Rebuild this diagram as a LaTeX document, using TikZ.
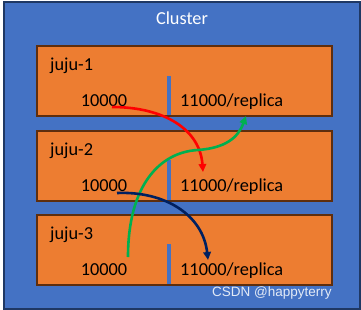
\documentclass[tikz,border=0pt]{standalone}
\usepackage{fontspec}
\setmainfont{Carlito}
\newfontfamily\wmfont{Liberation Sans}
\usetikzlibrary{arrows.meta}
\definecolor{clblue}{HTML}{4472C4}
\definecolor{clnavy}{HTML}{1F3864}
\definecolor{clorange}{HTML}{ED7D31}
\definecolor{clbrown}{HTML}{5E2E0E}
\definecolor{arred}{HTML}{FF0000}
\definecolor{argreen}{HTML}{00B050}
\definecolor{arnavy}{HTML}{002060}
\begin{document}
\begin{tikzpicture}[x=1bp,y=-1bp,
  jujubox/.style={draw=clbrown,fill=clorange,line width=2bp,minimum width=295bp,minimum height=70bp,anchor=north west,inner sep=0pt},
  txt/.style={font=\fontsize{18.3bp}{21bp}\selectfont,inner sep=0pt},
  bar/.style={fill=clblue,minimum width=4bp,inner sep=0pt,anchor=south},
  flow/.style={line width=2.6bp,-{Triangle[length=8bp,width=7.5bp]}}]
\useasboundingbox (0,0) rectangle (361,310);
\fill[white] (0,0) rectangle (361,310);
\node[draw=clnavy,fill=clblue,line width=2bp,minimum width=356bp,minimum height=307bp,anchor=north west,inner sep=0pt] (cluster) at (3,1) {};
\node[txt,text=white,anchor=base] (title) at (182,24) {Cluster};
% boxes
\node[jujubox] (b1) at (36,45) {};
\node[jujubox] (b2) at (36,130) {};
\node[jujubox] (b3) at (36,214) {};
% bars
\node[bar,minimum height=39bp] (s1) at (169,115) {};
\node[bar,minimum height=40bp] (s2) at (169,200) {};
\node[bar,minimum height=40bp] (s3) at (169,284) {};
% labels
\node[txt,anchor=base west] (l1) at (50,70) {juju-1};
\node[txt,anchor=base] (p1) at (104,106) {10000};
\node[txt,anchor=base west] (r1) at (180,106) {11000/replica};
\node[txt,anchor=base west] (l2) at (50,155) {juju-2};
\node[txt,anchor=base] (p2) at (104,191) {10000};
\node[txt,anchor=base west] (r2) at (180,191) {11000/replica};
\node[txt,anchor=base west] (l3) at (50,239) {juju-3};
\node[txt,anchor=base] (p3) at (104,275) {10000};
\node[txt,anchor=base west] (r3) at (180,275) {11000/replica};
% arrows
\coordinate (redS) at (112,107);
\coordinate (redE) at (203,172);
\coordinate (grnS) at (128,257);
\coordinate (grnE) at (246,116);
\coordinate (navS) at (117,193);
\coordinate (navE) at (208,260);
\draw[flow,draw=arred] (redS) .. controls (165,107) and (200,130) .. (redE);
\draw[flow,draw=argreen] (grnS) .. controls (128,185) and (160,152) .. (198,150) .. controls (225,148) and (238,138) .. (grnE);
\draw[flow,draw=arnavy] (navS) .. controls (165,191) and (203,215) .. (navE);
% watermark
\node[font=\wmfont\fontsize{13.5bp}{15bp}\selectfont,text=white!85!clblue,anchor=base west,inner sep=0pt] (wm) at (212,296) {CSDN @happyterry};
\end{tikzpicture}
\end{document}
